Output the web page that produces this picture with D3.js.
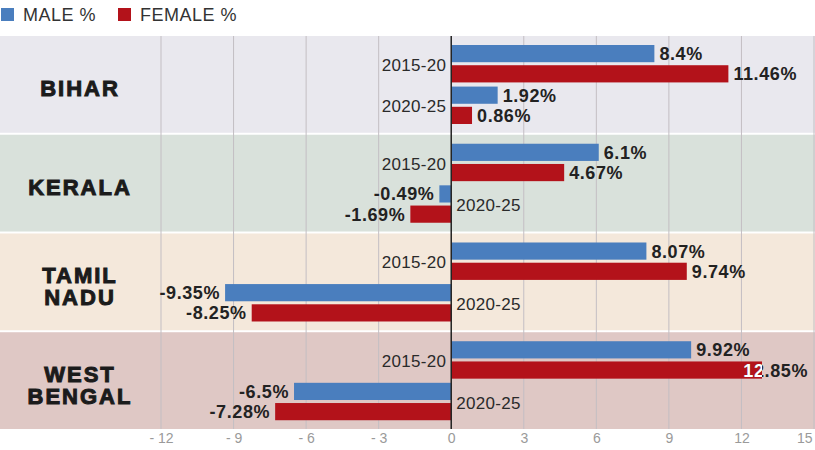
<!DOCTYPE html>
<html>
<head>
<meta charset="utf-8">
<script src="https://cdn.jsdelivr.net/npm/d3@7"></script>
<style>
  body { margin: 0; background: #fff; }
  svg { display: block; font-family: "Liberation Sans", Arial, sans-serif; }
</style>
</head>
<body>
<svg id="chart" width="815" height="450"></svg>
<script>
var states = ["BIHAR", "KERALA", "TAMIL NADU", "WEST BENGAL"];
var periods = ["2015-20", "2020-25"];
var series = ["MALE %", "FEMALE %"];
var male2015 = [8.4, 6.1, 8.07, 9.92];
var female2015 = [11.46, 4.67, 9.74, 12.85];
var male2020 = [1.92, -0.49, -9.35, -6.5];
var female2020 = [0.86, -1.69, -8.25, -7.28];
var valueLabels2015 = [["8.4%", "11.46%"], ["6.1%", "4.67%"], ["8.07%", "9.74%"], ["9.92%", "12.85%"]];
var valueLabels2020 = [["1.92%", "0.86%"], ["-0.49%", "-1.69%"], ["-9.35%", "-8.25%"], ["-6.5%", "-7.28%"]];
var tickValues = [-12, -9, -6, -3, 0, 3, 6, 9, 12, 15];

var bandColors = ["#e9e8ee", "#d9e1db", "#f4e8db", "#dfc8c5"];
var sexColors = ["#4a7ebe", "#b3121a"];

var svg = d3.select("#chart"),
    width = +svg.attr("width"),
    height = +svg.attr("height");

var plotTop = 36, plotBottom = 429;

var x = d3.scaleLinear().domain([-12, 15]).range([161, 814]);

var yState = d3.scaleBand().domain(states).range([plotTop, plotBottom]).paddingInner(0.02);
var yPeriod = d3.scaleBand().domain(periods).range([9, 88]).paddingInner(0.1);
var ySex = d3.scaleBand().domain(series).range([0, yPeriod.bandwidth()]).paddingInner(0.15);

// rows flattened from the arrays
var rows = [];
states.forEach(function(s, i) {
  rows.push({state: s, period: periods[0], sex: series[0], value: male2015[i], label: valueLabels2015[i][0]});
  rows.push({state: s, period: periods[0], sex: series[1], value: female2015[i], label: valueLabels2015[i][1]});
  rows.push({state: s, period: periods[1], sex: series[0], value: male2020[i], label: valueLabels2020[i][0]});
  rows.push({state: s, period: periods[1], sex: series[1], value: female2020[i], label: valueLabels2020[i][1]});
});

function barY(d) { return yState(d.state) + yPeriod(d.period) + ySex(d.sex); }

// legend
var legend = svg.append("g").attr("class", "legend");
var legendX = [1, 118];
series.forEach(function(s, i) {
  legend.append("rect")
    .attr("x", legendX[i]).attr("y", 8)
    .attr("width", 13).attr("height", 13)
    .attr("fill", sexColors[i]);
  legend.append("text")
    .attr("x", legendX[i] + 22).attr("y", 21)
    .attr("font-size", 18)
    .attr("letter-spacing", 0.5)
    .attr("fill", "#333")
    .text(s);
});

// background bands
svg.append("g").selectAll("rect")
  .data(states)
  .enter().append("rect")
    .attr("x", 0)
    .attr("y", function(d) { return yState(d); })
    .attr("width", width)
    .attr("height", yState.bandwidth())
    .attr("fill", function(d, i) { return bandColors[i]; });

// gridlines
svg.append("g").selectAll("line")
  .data(tickValues.filter(function(t) { return t !== 0; }))
  .enter().append("line")
    .attr("x1", function(d) { return x(d); })
    .attr("x2", function(d) { return x(d); })
    .attr("y1", plotTop).attr("y2", plotBottom)
    .attr("stroke", "#c3bec3")
    .attr("stroke-width", 1);

// state names
var stateG = svg.append("g");
states.forEach(function(s) {
  var lines = s.split(" ");
  var fs = 22, lh = 22;
  var cy = yState(s) + yState.bandwidth() / 2 + 4;
  var t = stateG.append("text")
    .attr("text-anchor", "middle")
    .attr("font-size", fs)
    .attr("font-weight", "bold")
    .attr("letter-spacing", 2)
    .attr("fill", "#1b1b1b")
    .attr("stroke", "#1b1b1b")
    .attr("stroke-width", 1);
  lines.forEach(function(l, j) {
    t.append("tspan")
      .attr("x", 80)
      .attr("y", cy - (lines.length - 1) * lh / 2 + j * lh + fs * 0.36)
      .text(l);
  });
});

// bars
var bars = svg.append("g");
bars.selectAll("rect")
  .data(rows)
  .enter().append("rect")
    .attr("x", function(d) { return x(Math.min(0, d.value)); })
    .attr("y", barY)
    .attr("width", function(d) { return Math.abs(x(d.value) - x(0)); })
    .attr("height", ySex.bandwidth())
    .attr("fill", function(d) { return d.sex === series[0] ? sexColors[0] : sexColors[1]; });

// zero line
svg.append("line")
  .attr("x1", x(0)).attr("x2", x(0))
  .attr("y1", plotTop).attr("y2", plotBottom)
  .attr("stroke", "#222")
  .attr("stroke-width", 1.5);

// period labels
var periodG = svg.append("g");
states.forEach(function(s, i) {
  periods.forEach(function(p, j) {
    var neg = (j === 0 ? male2015[i] : male2020[i]) < 0;
    periodG.append("text")
      .attr("x", neg ? x(0) + 5 : x(0) - 5)
      .attr("y", yState(s) + yPeriod(p) + yPeriod.bandwidth() / 2 + 17 * 0.36 + 1)
      .attr("text-anchor", neg ? "start" : "end")
      .attr("font-size", 17)
      .attr("letter-spacing", 0.3)
      .attr("fill", "#2a2a2a")
      .text(p);
  });
});

// value labels
var defs = svg.append("defs");
var labelG = svg.append("g");
rows.forEach(function(d, k) {
  var fs = 18;
  var ty = barY(d) + ySex.bandwidth() / 2 + fs * 0.36;
  var t = labelG.append("text")
    .attr("y", ty)
    .attr("font-size", fs)
    .attr("font-weight", "bold")
    .attr("letter-spacing", 0.6)
    .attr("fill", "#222")
    .text(d.label);
  var len = t.node().getComputedTextLength();
  var tx = d.value >= 0 ? x(d.value) + 5 : x(d.value) - 5 - len;
  if (tx + len > 808) tx = 808 - len;
  t.attr("x", tx);
  // part of label sitting on the bar is drawn white
  var bx0 = x(Math.min(0, d.value)), bx1 = x(Math.max(0, d.value));
  if (tx < bx1 && tx + len > bx0) {
    defs.append("clipPath").attr("id", "clip" + k)
      .append("rect")
        .attr("x", bx0).attr("y", barY(d))
        .attr("width", bx1 - bx0).attr("height", ySex.bandwidth());
    labelG.append("text")
      .attr("x", tx).attr("y", ty)
      .attr("font-size", fs)
      .attr("font-weight", "bold")
      .attr("letter-spacing", 0.6)
      .attr("fill", "#fff")
      .attr("clip-path", "url(#clip" + k + ")")
      .text(d.label);
  }
});

// axis
var axisG = svg.append("g")
  .attr("transform", "translate(0," + plotBottom + ")")
  .call(d3.axisBottom(x)
    .tickValues(tickValues)
    .tickSize(0)
    .tickPadding(4)
    .tickFormat(function(d) { return d < 0 ? "- " + Math.abs(d) : d; }));
axisG.select(".domain").remove();
axisG.selectAll("text")
  .attr("font-family", "'Liberation Sans', Arial, sans-serif")
  .attr("font-size", 14)
  .attr("fill", "#9a9a9a");
axisG.selectAll(".tick:last-of-type text").attr("text-anchor", "end").attr("x", -2);
</script>
</body>
</html>
